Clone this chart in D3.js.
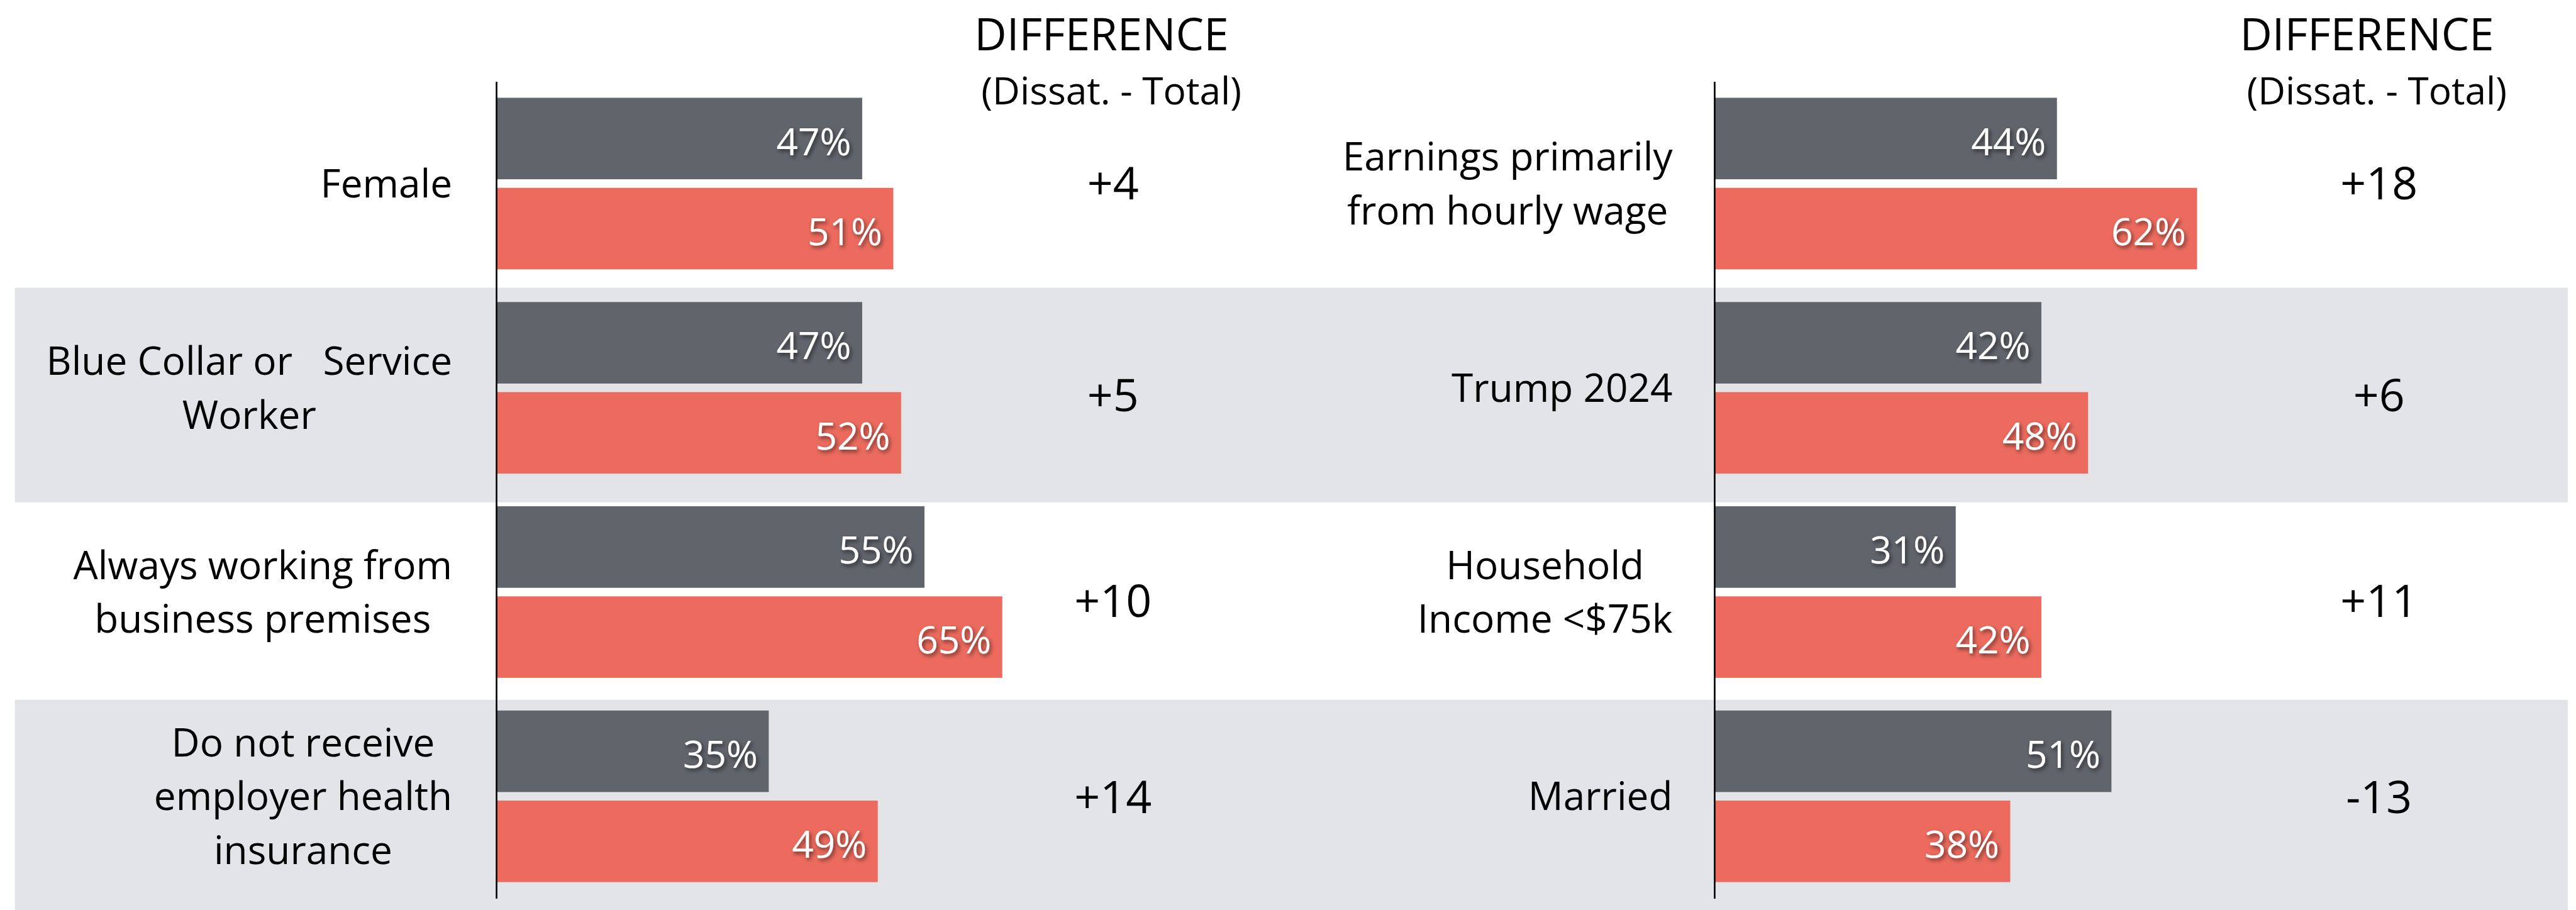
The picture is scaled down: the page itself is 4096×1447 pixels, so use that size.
<!DOCTYPE html>
<html>
<head>
<meta charset="utf-8">
<script src="https://cdn.jsdelivr.net/npm/d3@7"></script>
<style>
  html, body { margin: 0; padding: 0; background: #fff; }
  svg { display: block; font-family: "Open Sans", sans-serif; }
  text { white-space: pre; }
</style>
</head>
<body>
<div id="chart"></div>
<script>
// Chart data
const leftCategories = ["Female", "Blue Collar or   Service\nWorker", "Always working from\nbusiness premises", "Do not receive\nemployer health\ninsurance"];
const leftTotal = [47, 47, 55, 35];
const leftDissat = [51, 52, 65, 49];

const rightCategories = ["Earnings primarily\nfrom hourly wage", "Trump 2024", "Household\nIncome <$75k", "Married"];
const rightTotal = [44, 42, 31, 51];
const rightDissat = [62, 48, 42, 38];

const seriesNames = ["Total", "Dissatisfied"];
const seriesColors = ["#60646b", "#ec6b5e"];
const headerText = "DIFFERENCE";
const subHeaderText = "(Dissat. - Total)";

// Work in reference pixels, the viewBox shrinks everything to the window
const W = 4682, H = 1654;
const svg = d3.select("#chart")
    .append("svg")
    .attr("width", 4096)
    .attr("height", 1447)
    .attr("viewBox", `0 0 ${W} ${H}`);

// soft shadow behind the white value labels
svg.append("defs")
    .append("filter")
    .attr("id", "shadow")
    .attr("x", "-20%").attr("y", "-30%")
    .attr("width", "150%").attr("height", "170%")
    .append("feDropShadow")
    .attr("dx", 3).attr("dy", 4)
    .attr("stdDeviation", 3.5)
    .attr("flood-color", "#000")
    .attr("flood-opacity", 0.55);

// Grey stripes behind rows 2 and 4
const stripeEdges = [143, 523, 913, 1272, 1626];
[1, 3].forEach(i => {
    svg.append("rect")
        .attr("x", 27)
        .attr("y", stripeEdges[i])
        .attr("width", 4640)
        .attr("height", i === 3 ? H - stripeEdges[i] : stripeEdges[i + 1] - stripeEdges[i])
        .attr("fill", "#e3e4e8");
});

const x = d3.scaleLinear().domain([0, 100]).range([0, 1415]);

const labelSize = 71, valueSize = 69, diffSize = 82, headSize = 81, subSize = 69;
const lineHeight = 98;

function drawPanel(p) {
    const g = svg.append("g").attr("transform", `translate(${p.axisX},0)`);

    const y = d3.scaleBand()
        .domain(p.categories)
        .range([148, 1633])
        .paddingInner(0.16)
        .paddingOuter(0.08);

    const ySeries = d3.scaleBand()
        .domain(d3.range(seriesNames.length))
        .range([0, y.bandwidth()])
        .paddingInner(0.095);

    const rows = p.categories.map((c, i) => ({
        cat: c,
        values: [p.total[i], p.dissat[i]],
        diff: p.dissat[i] - p.total[i],
        i: i
    }));

    // bars
    const groups = g.selectAll(".row")
        .data(rows)
        .enter()
        .append("g")
        .attr("class", "row")
        .attr("transform", d => `translate(0,${y(d.cat)})`);

    groups.selectAll("rect")
        .data(d => d.values)
        .enter()
        .append("rect")
        .attr("x", 0)
        .attr("y", (d, j) => ySeries(j))
        .attr("width", d => x(d))
        .attr("height", ySeries.bandwidth())
        .attr("fill", (d, j) => seriesColors[j]);

    // value labels inside bar ends
    groups.selectAll(".val")
        .data(d => d.values)
        .enter()
        .append("text")
        .attr("class", "val")
        .attr("x", d => x(d) - 20)
        .attr("y", (d, j) => ySeries(j) + ySeries.bandwidth() / 2 + 30)
        .attr("text-anchor", "end")
        .attr("fill", "#fff")
        .attr("font-size", valueSize)
        .attr("filter", "url(#shadow)")
        .text(d => d + "%");

    // vertical axis line
    g.append("g")
        .call(d3.axisLeft(y).tickSize(0).tickFormat(""))
        .call(a => a.select(".domain").attr("stroke", "#000").attr("stroke-width", 3));

    // category labels: lines centred on each other, block right-aligned
    const capHalf = 0.714 * labelSize / 2;
    rows.forEach(r => {
        const lines = r.cat.split("\n");
        const cy = y(r.cat) + y.bandwidth() / 2;
        const t = svg.append("text")
            .attr("font-size", labelSize)
            .attr("fill", "#000")
            .attr("text-anchor", "middle");
        const spans = t.selectAll("tspan")
            .data(lines)
            .enter()
            .append("tspan")
            .attr("y", (d, k) => cy - (lines.length - 1) * lineHeight / 2 + k * lineHeight + capHalf)
            .text(d => d);
        const maxW = d3.max(spans.nodes(), n => n.getComputedTextLength());
        spans.attr("x", p.labelRight - maxW / 2);
    });

    // difference column
    svg.append("text")
        .attr("x", p.headX).attr("y", 91)
        .attr("text-anchor", "middle")
        .attr("font-size", headSize)
        .text(headerText);
    svg.append("text")
        .attr("x", p.subX).attr("y", 190)
        .attr("text-anchor", "middle")
        .attr("font-size", subSize)
        .text(subHeaderText);

    svg.selectAll(null)
        .data(rows)
        .enter()
        .append("text")
        .attr("x", p.diffX)
        .attr("y", d => (stripeEdges[d.i] + stripeEdges[d.i + 1]) / 2 + 0.714 * diffSize / 2)
        .attr("text-anchor", "middle")
        .attr("font-size", diffSize)
        .text(d => (d.diff > 0 ? "+" : "") + d.diff);
}

drawPanel({
    categories: leftCategories, total: leftTotal, dissat: leftDissat,
    axisX: 902, labelRight: 822, diffX: 2023, headX: 2002, subX: 2020
});
drawPanel({
    categories: rightCategories, total: rightTotal, dissat: rightDissat,
    axisX: 3116, labelRight: 3040, diffX: 4324, headX: 4302, subX: 4320
});
</script>
</body>
</html>
